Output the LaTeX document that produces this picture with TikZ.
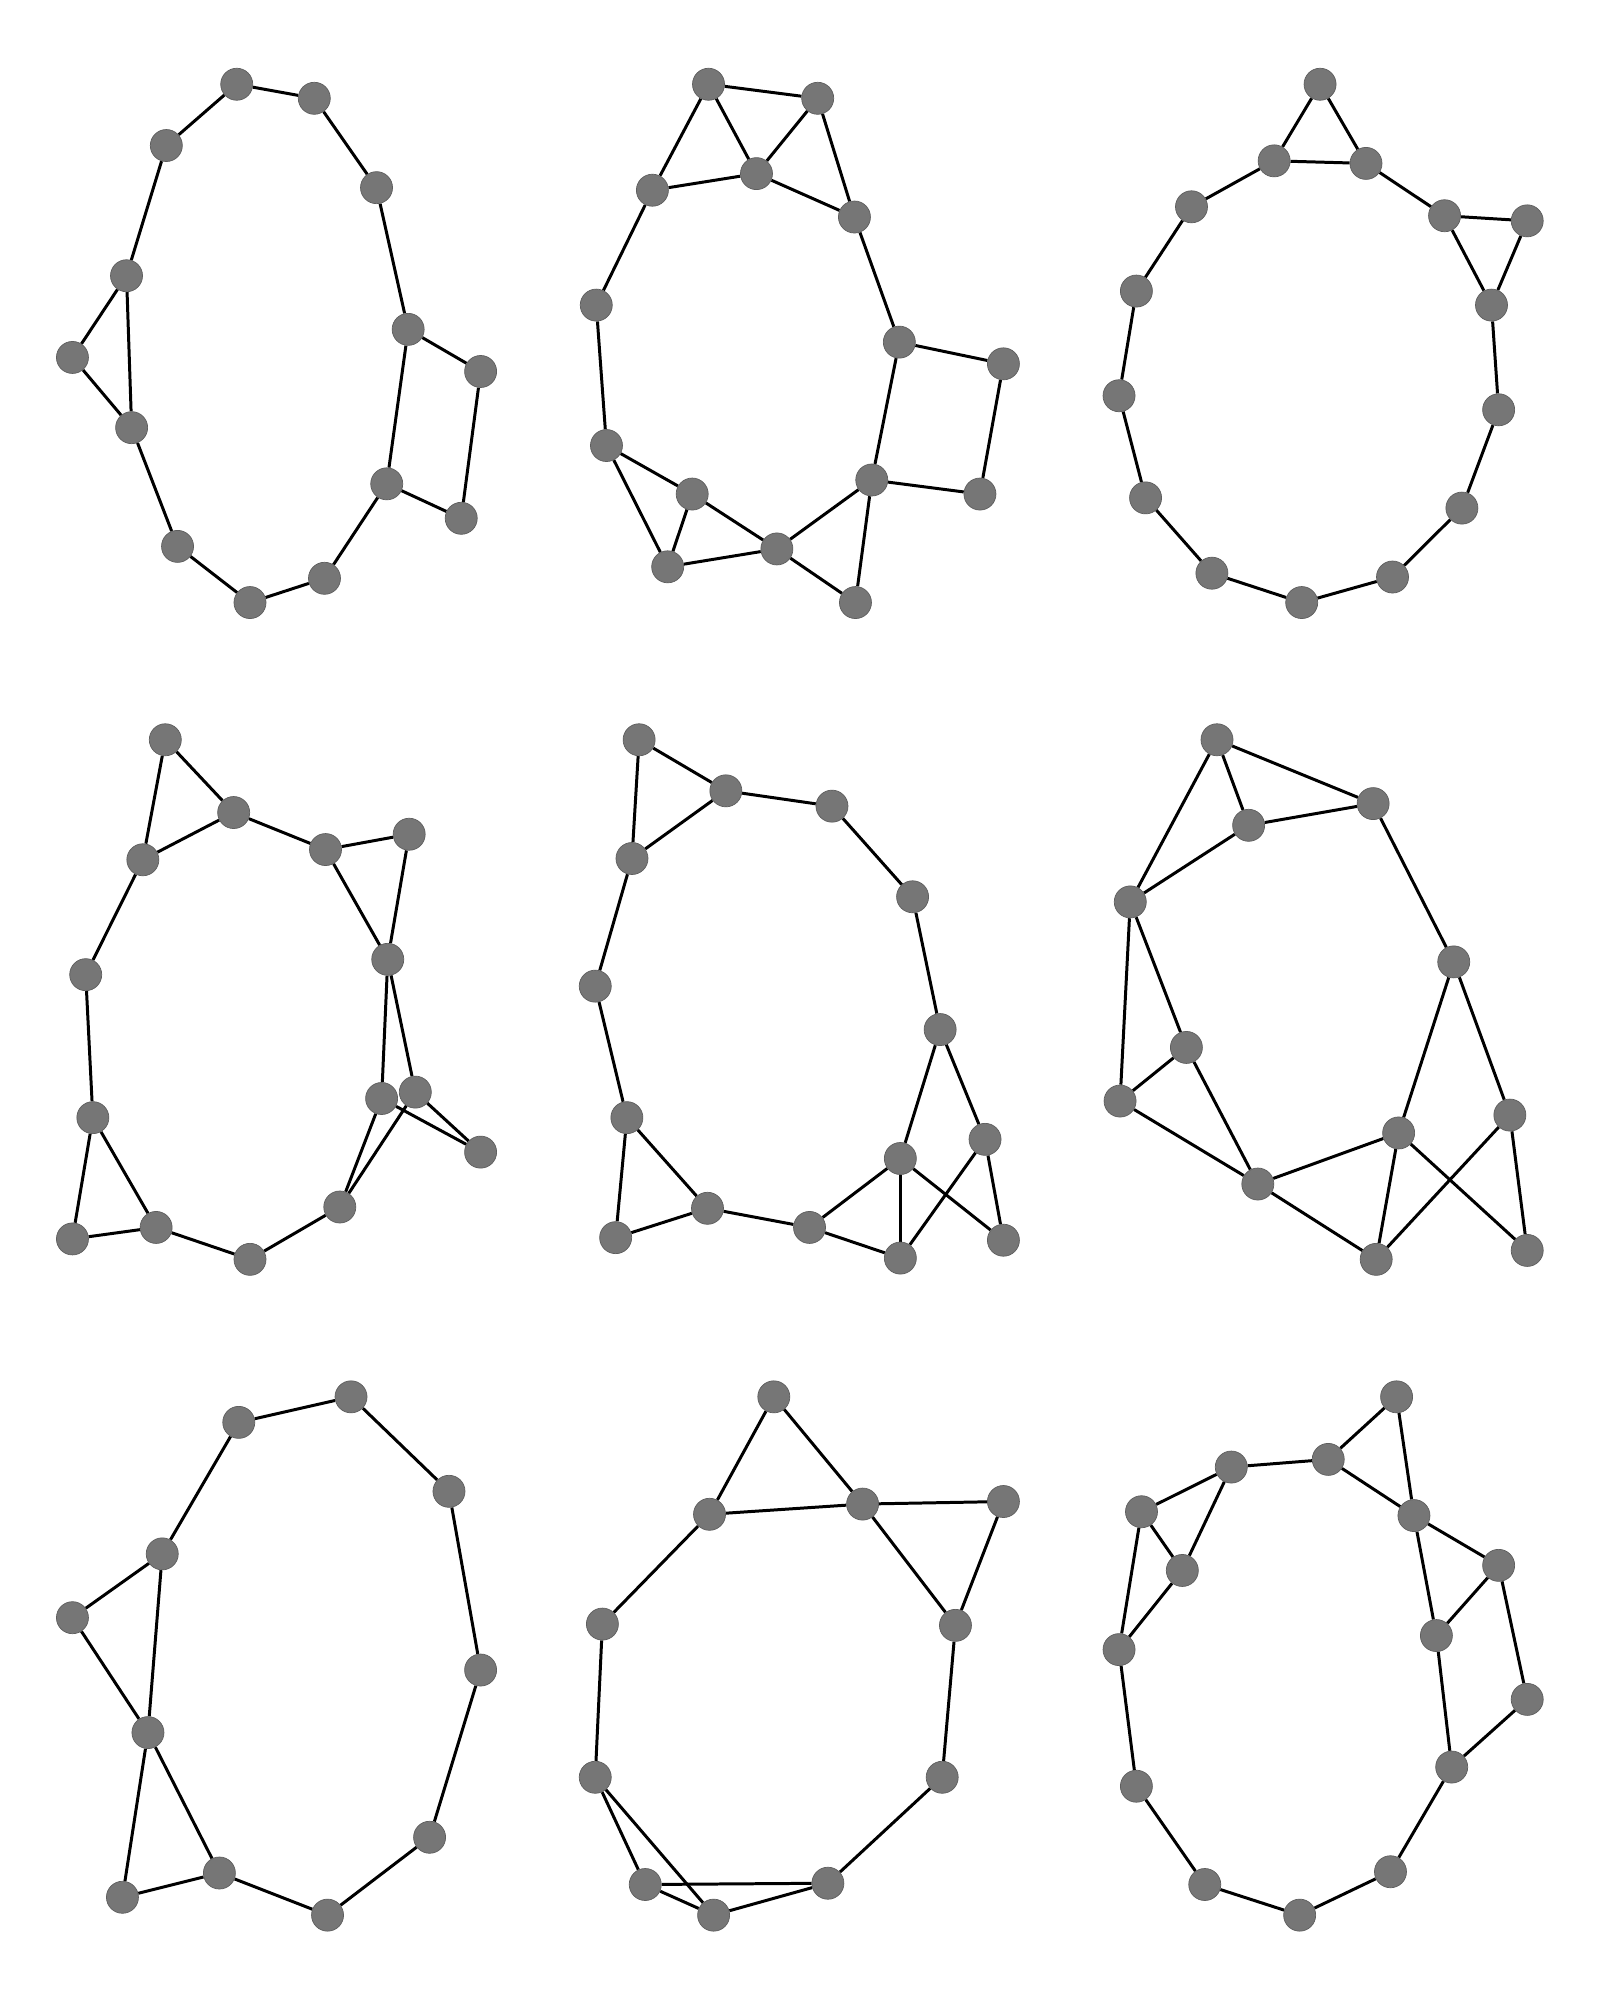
\documentclass[tikz,border=0pt]{standalone}
\pgfdeclarelayer{edgelayer}
\pgfsetlayers{edgelayer,main}
\definecolor{nodegray}{RGB}{118,118,118}
\tikzset{
  v/.style={circle, fill=nodegray, draw=nodegray!80!black, line width=0.2pt, minimum size=3.2mm, inner sep=0pt},
  edge/.style={draw=black, line width=0.85pt},
  panel/.style args={#1/#2}{shift={(#1,#2)}, xscale=1.0204, yscale=1.2766, shift={(-#1,-#2)}}
}
\begin{document}
\begin{tikzpicture}[x=0.01cm, y=-0.01cm]
\useasboundingbox (0,0) rectangle (1600,2000);
% ---------- panel 1 ----------
\begin{scope}[panel=0/0]
\node[v] (p1a) at (232,66) {};
\node[v] (p1b) at (308,77) {};
\node[v] (p1c) at (163,114) {};
\node[v] (p1d) at (369,147) {};
\node[v] (p1e) at (124,216) {};
\node[v] (p1f) at (71,280) {};
\node[v] (p1g) at (129,335) {};
\node[v] (p1h) at (400,258) {};
\node[v] (p1i) at (471,291) {};
\node[v] (p1j) at (379,379) {};
\node[v] (p1k) at (452,406) {};
\node[v] (p1l) at (174,428) {};
\node[v] (p1m) at (245,472) {};
\node[v] (p1n) at (318,453) {};
\end{scope}
% ---------- panel 2 ----------
\begin{scope}[panel=533/0]
\node[v] (p2A) at (705,66) {};
\node[v] (p2B) at (812,77) {};
\node[v] (p2C) at (752,136) {};
\node[v] (p2D) at (650,149) {};
\node[v] (p2E) at (848,170) {};
\node[v] (p2F) at (595,239) {};
\node[v] (p2G) at (892,268) {};
\node[v] (p2H) at (994,285) {};
\node[v] (p2I) at (605,349) {};
\node[v] (p2J) at (865,376) {};
\node[v] (p2K) at (971,387) {};
\node[v] (p2L) at (689,387) {};
\node[v] (p2M) at (772,430) {};
\node[v] (p2N) at (665,444) {};
\node[v] (p2O) at (849,472) {};
\end{scope}
% ---------- panel 3 ----------
\begin{scope}[panel=1067/0]
\node[v] (p3a) at (1315,66) {};
\node[v] (p3b) at (1270,126) {};
\node[v] (p3c) at (1360,128) {};
\node[v] (p3d) at (1189,162) {};
\node[v] (p3e) at (1437,169) {};
\node[v] (p3f) at (1518,173) {};
\node[v] (p3g) at (1135,228) {};
\node[v] (p3h) at (1483,239) {};
\node[v] (p3i) at (1118,310) {};
\node[v] (p3j) at (1490,321) {};
\node[v] (p3k) at (1144,390) {};
\node[v] (p3l) at (1454,398) {};
\node[v] (p3m) at (1209,449) {};
\node[v] (p3n) at (1386,452) {};
\node[v] (p3o) at (1297,472) {};
\end{scope}
% ---------- panel 4 ----------
\begin{scope}[panel=0/667]
\node[v] (p4a) at (162,724) {};
\node[v] (p4b) at (229,781) {};
\node[v] (p4c) at (140,818) {};
\node[v] (p4d) at (319,810) {};
\node[v] (p4e) at (401,798) {};
\node[v] (p4f) at (380,896) {};
\node[v] (p4g) at (84,908) {};
\node[v] (p4h) at (374,1005) {};
\node[v] (p4i) at (407,1000) {};
\node[v] (p4j) at (471,1047) {};
\node[v] (p4k) at (91,1020) {};
\node[v] (p4l) at (333,1090) {};
\node[v] (p4m) at (153,1106) {};
\node[v] (p4n) at (71,1115) {};
\node[v] (p4o) at (245,1131) {};
\end{scope}
% ---------- panel 5 ----------
\begin{scope}[panel=533/667]
\node[v] (p5a) at (637,724) {};
\node[v] (p5b) at (722,764) {};
\node[v] (p5c) at (826,776) {};
\node[v] (p5d) at (630,817) {};
\node[v] (p5e) at (905,847) {};
\node[v] (p5f) at (594,917) {};
\node[v] (p5g) at (932,951) {};
\node[v] (p5h) at (625,1020) {};
\node[v] (p5i) at (976,1037) {};
\node[v] (p5j) at (893,1052) {};
\node[v] (p5k) at (704,1091) {};
\node[v] (p5l) at (804,1106) {};
\node[v] (p5m) at (614,1114) {};
\node[v] (p5n) at (893,1130) {};
\node[v] (p5o) at (994,1116) {};
\end{scope}
% ---------- panel 6 ----------
\begin{scope}[panel=1067/667]
\node[v] (p6a) at (1214,724) {};
\node[v] (p6b) at (1245,791) {};
\node[v] (p6c) at (1367,774) {};
\node[v] (p6d) at (1129,851) {};
\node[v] (p6e) at (1446,898) {};
\node[v] (p6f) at (1184,965) {};
\node[v] (p6g) at (1119,1007) {};
\node[v] (p6h) at (1392,1032) {};
\node[v] (p6i) at (1501,1018) {};
\node[v] (p6j) at (1254,1072) {};
\node[v] (p6k) at (1370,1131) {};
\node[v] (p6l) at (1518,1124) {};
\end{scope}
% ---------- panel 7 ----------
\begin{scope}[panel=0/1333]
\node[v] (p7a) at (344,1383) {};
\node[v] (p7b) at (234,1403) {};
\node[v] (p7c) at (440,1457) {};
\node[v] (p7d) at (159,1506) {};
\node[v] (p7e) at (71,1556) {};
\node[v] (p7f) at (471,1597) {};
\node[v] (p7g) at (145,1646) {};
\node[v] (p7h) at (421,1728) {};
\node[v] (p7i) at (215,1756) {};
\node[v] (p7j) at (120,1775) {};
\node[v] (p7k) at (321,1789) {};
\end{scope}
% ---------- panel 8 ----------
\begin{scope}[panel=533/1333]
\node[v] (p8a) at (769,1383) {};
\node[v] (p8b) at (706,1475) {};
\node[v] (p8c) at (856,1467) {};
\node[v] (p8d) at (994,1465) {};
\node[v] (p8e) at (601,1561) {};
\node[v] (p8f) at (947,1562) {};
\node[v] (p8g) at (594,1681) {};
\node[v] (p8h) at (934,1681) {};
\node[v] (p8i) at (643,1765) {};
\node[v] (p8j) at (822,1764) {};
\node[v] (p8k) at (710,1789) {};
\end{scope}
% ---------- panel 9 ----------
\begin{scope}[panel=1067/1333]
\node[v] (p9a) at (1390,1383) {};
\node[v] (p9b) at (1228,1438) {};
\node[v] (p9c) at (1323,1432) {};
\node[v] (p9d) at (1140,1473) {};
\node[v] (p9e) at (1407,1476) {};
\node[v] (p9f) at (1180,1519) {};
\node[v] (p9g) at (1490,1515) {};
\node[v] (p9h) at (1429,1570) {};
\node[v] (p9i) at (1118,1581) {};
\node[v] (p9j) at (1518,1620) {};
\node[v] (p9k) at (1444,1673) {};
\node[v] (p9l) at (1135,1688) {};
\node[v] (p9m) at (1202,1765) {};
\node[v] (p9n) at (1384,1755) {};
\node[v] (p9o) at (1295,1789) {};
\end{scope}
% ---------- edges ----------
\begin{pgfonlayer}{edgelayer}
\fill[white] (0,0) rectangle (1600,2000);
\foreach \u/\w in {a/b,a/c,b/d,c/e,d/h,e/f,e/g,f/g,g/l,l/m,m/n,n/j,j/h,h/i,i/k,k/j}
  \draw[edge] (p1\u) -- (p1\w);
\foreach \u/\w in {A/B,A/D,A/C,B/C,B/E,D/C,C/E,D/F,E/G,F/I,G/H,G/J,H/K,K/J,I/L,I/N,L/N,L/M,N/M,M/J,M/O,J/O}
  \draw[edge] (p2\u) -- (p2\w);
\foreach \u/\w in {a/b,a/c,b/c,b/d,c/e,e/f,e/h,f/h,d/g,g/i,i/k,k/m,m/o,o/n,n/l,l/j,j/h}
  \draw[edge] (p3\u) -- (p3\w);
\foreach \u/\w in {a/b,a/c,b/c,b/d,d/e,d/f,e/f,c/g,g/k,k/n,k/m,n/m,m/o,o/l,l/h,l/i,f/h,f/i,h/j,i/j}
  \draw[edge] (p4\u) -- (p4\w);
\foreach \u/\w in {a/b,a/d,b/d,b/c,c/e,e/g,d/f,f/h,h/k,h/m,m/k,k/l,l/j,l/n,j/n,g/j,g/i,j/o,i/n,i/o}
  \draw[edge] (p5\u) -- (p5\w);
\foreach \u/\w in {a/b,a/c,a/d,b/c,b/d,c/e,d/f,d/g,f/g,f/j,g/j,j/h,j/k,e/h,e/i,h/k,h/l,i/k,i/l}
  \draw[edge] (p6\u) -- (p6\w);
\foreach \u/\w in {a/b,a/c,b/d,c/f,d/e,d/g,e/g,f/h,g/i,g/j,j/i,i/k,k/h}
  \draw[edge] (p7\u) -- (p7\w);
\foreach \u/\w in {a/b,a/c,b/c,c/d,c/f,d/f,b/e,e/g,f/h,h/j,g/i,g/k,i/j,i/k,k/j}
  \draw[edge] (p8\u) -- (p8\w);
\foreach \u/\w in {a/c,a/e,b/c,b/d,b/f,c/e,d/f,d/i,f/i,e/g,e/h,g/h,g/j,h/k,j/k,i/l,l/m,m/o,o/n,n/k}
  \draw[edge] (p9\u) -- (p9\w);
\end{pgfonlayer}
\end{tikzpicture}
\end{document}
